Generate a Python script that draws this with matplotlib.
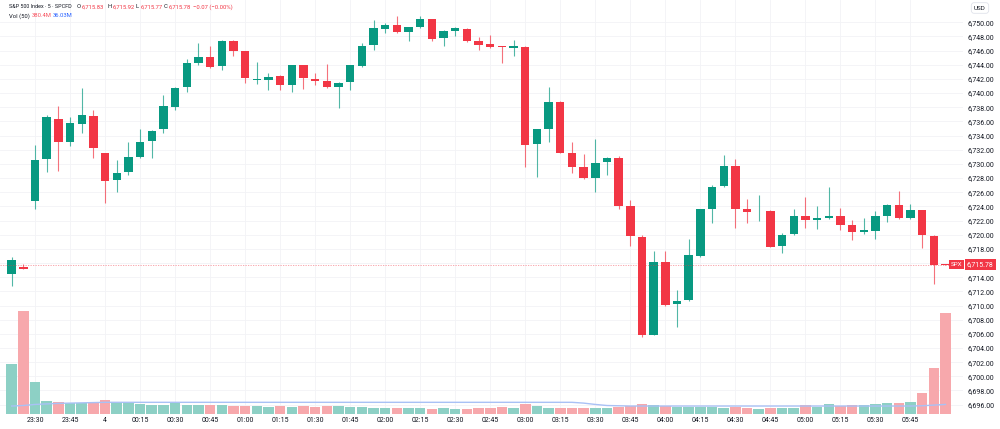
import numpy as np
import pandas as pd
from matplotlib import pyplot as plt

plt.rcParams['font.family'] = ['Roboto', 'DejaVu Sans']

# 5 minute bars from 23:20 to 06:00
start_time = '2025-10-03 23:20'
opens = [6714.5, 6715.5, 6724.7, 6730.7, 6736.4, 6733.1, 6735.6, 6736.8, 6731.5, 6727.7,
         6728.9, 6731.0, 6733.3, 6734.9, 6738.1, 6740.8, 6744.3, 6745.1, 6743.8, 6747.4,
         6745.9, 6741.9, 6741.9, 6742.4, 6741.1, 6743.9, 6742.0, 6741.7, 6740.8, 6741.6,
         6743.8, 6746.8, 6749.1, 6749.6, 6748.7, 6749.3, 6750.4, 6747.8, 6748.8, 6749.1,
         6747.3, 6746.9, 6746.6, 6746.4, 6746.5, 6732.8, 6734.9, 6738.8, 6731.6, 6729.5,
         6728.0, 6730.2, 6730.8, 6724.1, 6719.7, 6705.9, 6716.1, 6710.2, 6710.8, 6717.0,
         6723.7, 6726.9, 6729.7, 6723.6, 6723.3, 6723.4, 6718.4, 6720.1, 6722.7, 6722.1,
         6722.3, 6722.7, 6721.4, 6720.4, 6720.5, 6722.6, 6724.2, 6722.3, 6723.45, 6719.8,
         6715.83]
highs = [6716.9, 6715.8, 6732.7, 6736.9, 6738.2, 6736.6, 6740.7, 6737.6, 6731.6, 6730.6,
         6733.1, 6735.0, 6734.8, 6739.8, 6740.9, 6744.8, 6747.1, 6746.7, 6747.5, 6747.5,
         6746.0, 6744.4, 6742.8, 6742.6, 6744.0, 6744.0, 6742.8, 6744.1, 6741.5, 6744.0,
         6747.1, 6750.3, 6749.9, 6750.9, 6749.4, 6750.9, 6750.5, 6748.9, 6749.3, 6749.2,
         6747.9, 6748.2, 6746.7, 6747.5, 6746.6, 6735.0, 6740.9, 6738.9, 6733.1, 6731.4,
         6733.5, 6731.0, 6731.1, 6724.9, 6720.0, 6717.7, 6717.7, 6712.2, 6719.4, 6723.7,
         6727.0, 6731.2, 6730.7, 6725.0, 6725.6, 6723.5, 6720.2, 6723.6, 6725.3, 6724.1,
         6726.7, 6723.8, 6722.1, 6722.4, 6723.4, 6724.3, 6726.2, 6724.3, 6723.5, 6719.9,
         6715.92]
lows = [6712.8, 6715.2, 6723.7, 6728.9, 6729.0, 6732.5, 6734.3, 6730.9, 6724.5, 6726.0,
        6728.5, 6730.9, 6730.9, 6734.3, 6737.6, 6740.1, 6743.9, 6743.5, 6743.2, 6745.3,
        6741.4, 6741.3, 6740.5, 6740.4, 6740.1, 6740.6, 6741.2, 6740.7, 6737.9, 6740.4,
        6743.7, 6746.1, 6748.5, 6748.5, 6747.4, 6749.2, 6747.4, 6746.6, 6748.0, 6747.2,
        6746.1, 6746.4, 6744.3, 6745.2, 6729.5, 6728.2, 6733.1, 6731.5, 6728.7, 6727.9,
        6726.1, 6728.5, 6723.6, 6718.4, 6705.6, 6705.8, 6710.0, 6706.9, 6710.7, 6716.9,
        6721.6, 6726.7, 6721.0, 6721.7, 6722.0, 6718.2, 6717.4, 6720.0, 6721.0, 6720.8,
        6722.2, 6720.7, 6719.2, 6720.05, 6719.4, 6721.75, 6722.2, 6722.2, 6718.1, 6713.1,
        6715.77]
closes = [6716.5, 6715.2, 6730.6, 6736.6, 6733.1, 6735.8, 6736.9, 6732.3, 6727.6, 6728.7,
          6731.0, 6733.1, 6734.7, 6738.2, 6740.7, 6744.2, 6745.1, 6743.7, 6747.4, 6746.0,
          6742.1, 6742.0, 6742.3, 6741.1, 6743.9, 6742.2, 6741.7, 6740.8, 6741.4, 6743.9,
          6746.7, 6749.2, 6749.6, 6748.6, 6749.3, 6750.4, 6747.7, 6748.8, 6749.2, 6747.3,
          6746.75, 6746.5, 6746.5, 6746.6, 6732.7, 6734.9, 6738.8, 6731.6, 6729.5, 6728.05,
          6730.1, 6730.9, 6724.1, 6719.8, 6705.8, 6716.1, 6710.1, 6710.7, 6717.1, 6723.6,
          6726.8, 6729.7, 6723.6, 6723.2, 6723.4, 6718.3, 6720.0, 6722.7, 6722.1, 6722.4,
          6722.6, 6721.4, 6720.4, 6720.6, 6722.7, 6724.2, 6722.3, 6723.45, 6720.0, 6715.7,
          6715.78]
# volume in millions
volumes = [187, 389, 120, 47.5, 43.7, 40, 41, 42.6, 51, 45,
           40, 39, 35, 35, 41, 33.6, 33.6, 33.6, 33.6, 30,
           30, 28.7, 26, 28.7, 26, 30, 26, 28.7, 28.7, 26,
           26, 22.4, 21, 21, 22.4, 21, 18.7, 21, 18.7, 18.7,
           22.4, 22.4, 25, 21, 36, 30, 22.4, 21, 21, 22.4,
           22.4, 21, 26, 30, 37.4, 32.5, 28.7, 26, 27, 26,
           25, 22.4, 26, 22.4, 18.7, 21, 21, 21, 32.5, 26,
           36, 30, 32.5, 32.5, 37.4, 41, 42.6, 45, 80, 175,
           380.4]
vol_ma = [30, 32, 36, 38, 40, 41, 42, 43, 44, 44,
          44, 44, 44, 44, 44, 44, 44, 44, 44, 44,
          44, 44, 44, 44, 44, 44, 44, 44, 44, 44,
          44, 44, 44, 44, 44, 44, 44, 44, 44, 44,
          44, 44, 44, 44, 44, 44, 44, 44, 44, 41,
          36, 32, 31, 30, 30, 30, 30, 30, 30, 30,
          30, 30, 30, 30, 30, 30, 30, 30, 30, 30,
          30, 30, 30, 30, 30, 30, 30, 30, 31, 33.5,
          36.03]
last_price = 6715.78

GREEN = '#089981'
RED = '#f23645'
VOL_GREEN = '#8dd0c5'
VOL_RED = '#f7a8ac'
TEXT = '#131722'
GRID = '#f2f3f6'

times = pd.date_range(start_time, periods=len(closes), freq='5min')
idx = np.arange(len(closes))
o, h, l, c = map(np.array, (opens, highs, lows, closes))
up = c >= o
colors = np.where(up, GREEN, RED)

fig = plt.figure(figsize=(10, 4.29), dpi=100)
ax = fig.add_axes([0, 15 / 429, 0.963, 414 / 429])
ax.set_xlim(-1.0, 81.5)
ax.set_ylim(6694.68, 6753.15)

# candles
ax.vlines(idx, l, h, colors=colors, lw=0.8, alpha=0.7)
body = np.maximum(np.abs(c - o), 0.12)
ax.bar(idx, body, bottom=np.minimum(o, c), width=0.72, color=colors, linewidth=0)
ax.axhline(last_price, color=RED, lw=0.6, ls=(0, (1.5, 1.5)), alpha=0.5)

# volume overlay
axv = ax.twinx()
axv.set_ylim(0, 1559)
axv.bar(idx, volumes, width=0.9, color=np.where(up, VOL_GREEN, VOL_RED), linewidth=0)
axv.plot(idx, vol_ma, color='#a9c1f5', lw=1)
axv.set_yticks([])
for sp in axv.spines.values():
    sp.set_visible(False)

# axes, ticks, grid
ax.yaxis.tick_right()
yt = np.arange(6696, 6751, 2)
ax.set_yticks(yt)
ax.set_yticklabels(['' if abs(v - last_price) < 1.5 else f'{v:,.2f}' for v in yt])
mask = (times.minute % 15 == 0) & (idx < len(closes) - 1)
ax.set_xticks(idx[mask])
ax.set_xticklabels(['4' if t.hour == 0 and t.minute == 0 else t.strftime('%H:%M')
                    for t in times[mask]])
ax.tick_params(length=0, labelsize=5, colors=TEXT)
ax.tick_params(axis='y', pad=3.5)
ax.tick_params(axis='x', pad=2.5)
ax.grid(color=GRID, lw=0.6)
ax.set_axisbelow(True)
for sp in ax.spines.values():
    sp.set_visible(False)

# last price tags
tr = ax.get_yaxis_transform()
ax.text(0.9935, last_price, 'SPX', transform=tr, ha='center', va='center', fontsize=4.5,
        color='white', clip_on=False,
        bbox=dict(boxstyle='square,pad=0.3', fc=RED, ec='none'))
ax.text(1.0177, last_price, f'{last_price:,.2f}', transform=tr, ha='center', va='center',
        fontsize=5, color='white', clip_on=False,
        bbox=dict(boxstyle='square,pad=0.3', fc=RED, ec='none'))

fig.text(0.980, 1 - 8 / 429, 'USD', ha='center', va='center', fontsize=4.5, color=TEXT,
         bbox=dict(boxstyle='round,pad=0.45', fc='white', ec='#e0e3eb', lw=0.6))

# header
def px(x, y, s, color=TEXT, size=4.2):
    fig.text(x / 1000, 1 - y / 429, s, ha='left', va='center', fontsize=size, color=color)

px(9, 6.7, 'S&P 500 Index · 5 · SPCFD', size=3.9)
for x, letter, val in [(77, 'O', opens[-1]), (108, 'H', highs[-1]),
                       (136, 'L', lows[-1]), (164, 'C', closes[-1])]:
    px(x, 6.7, letter)
    px(x + 4.5, 6.7, f'{val:,.2f}', RED)
px(193, 6.7, '−0.07 (−0.00%)', RED)
px(9, 15.7, 'Vol (50)')
px(31.5, 15.7, f'{volumes[-1]}M', '#f7525f')
px(53, 15.7, f'{vol_ma[-1]:.2f}M', '#2962ff')

fig.savefig('out.png', dpi=100)
